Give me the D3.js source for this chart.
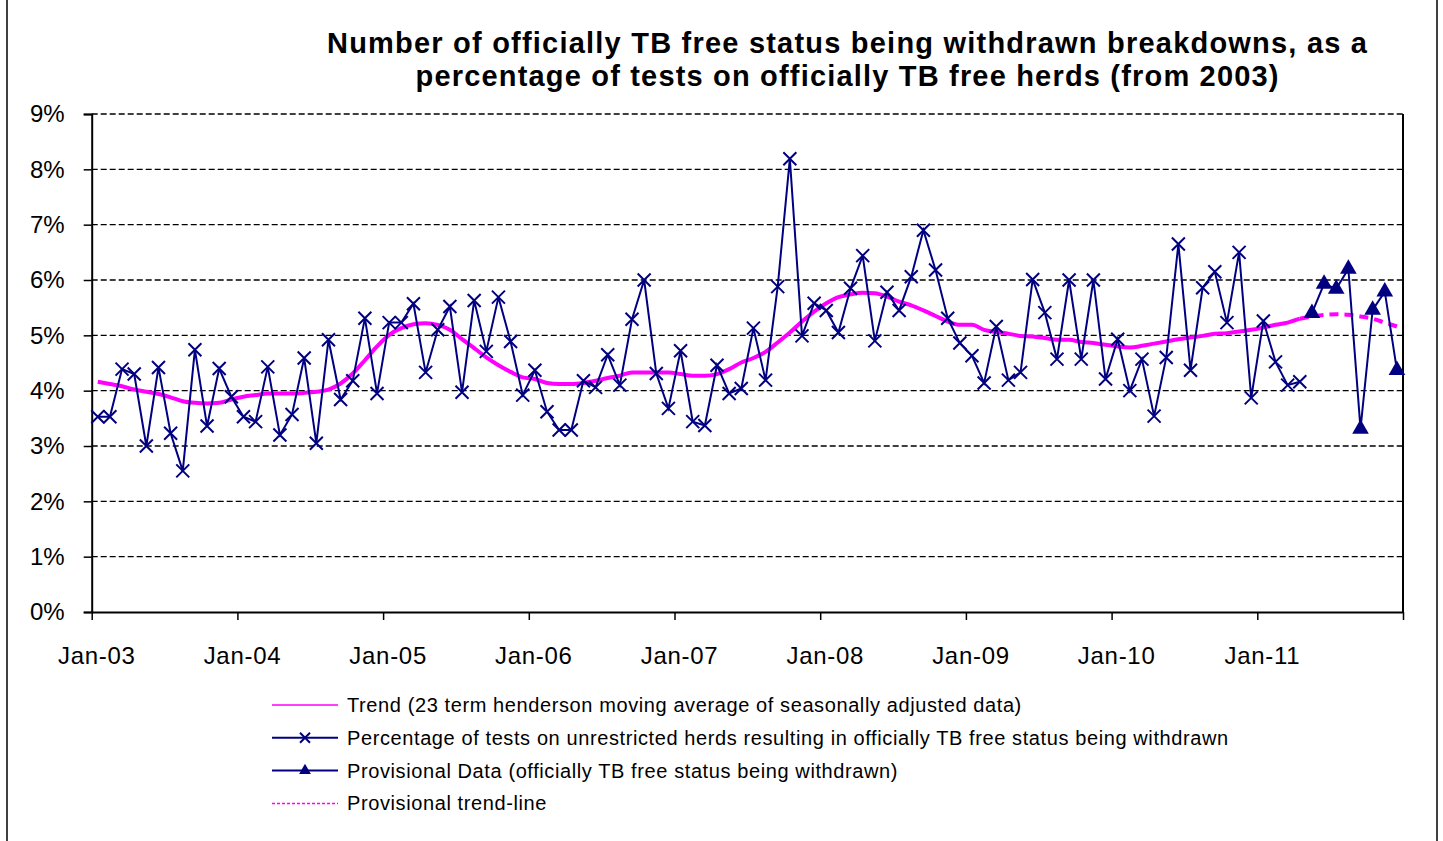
<!DOCTYPE html>
<html>
<head>
<meta charset="utf-8">
<script src="https://cdn.jsdelivr.net/npm/d3@7"></script>
<style>
  html, body { margin: 0; padding: 0; background: #fff; }
  svg { display: block; }
  text { font-family: "Liberation Sans", Arial, sans-serif; }
</style>
</head>
<body>
<svg id="chart" width="1443" height="841"></svg>
<script>
// ---------- DATA ----------
const years = ["03","04","05","06","07","08","09","10","11"];
const monthNames = ["Jan","Feb","Mar","Apr","May","Jun","Jul","Aug","Sep","Oct","Nov","Dec"];
const months = [];
years.forEach(yr => monthNames.forEach(m => months.push(m + "-" + yr)));   // 108 categories, Jan-03 .. Dec-11

const yearTickLabels = ["Jan-03","Jan-04","Jan-05","Jan-06","Jan-07","Jan-08","Jan-09","Jan-10","Jan-11"];
const yTickValues = [0,0.01,0.02,0.03,0.04,0.05,0.06,0.07,0.08,0.09];

// Percentage of tests on unrestricted herds resulting in OTF status withdrawn (Jan-03 .. Apr-11), in %
const percentValues = [
  3.53,3.53,4.39,4.30,3.00,4.42,3.23,2.55,4.74,3.36,4.40,3.89,
  3.53,3.44,4.43,3.20,3.57,4.59,3.05,4.92,3.84,4.18,5.31,3.95,
  5.23,5.23,5.57,4.33,5.10,5.52,3.97,5.63,4.71,5.69,4.89,3.92,
  4.37,3.62,3.29,3.29,4.18,4.06,4.65,4.10,5.29,6.00,4.31,3.68,
  4.72,3.44,3.37,4.46,3.95,4.04,5.13,4.19,5.88,8.19,4.99,5.58,
  5.45,5.05,5.85,6.44,4.90,5.78,5.45,6.06,6.90,6.18,5.31,4.86,
  4.63,4.14,5.16,4.19,4.33,6.01,5.41,4.57,6.00,4.57,6.00,4.21,
  4.93,4.00,4.57,3.54,4.60,6.65,4.37,5.86,6.15,5.23,6.50,3.87,
  5.26,4.52,4.10,4.16
];
// Provisional data (May-11 .. Dec-11), in %
const provisionalValues = [5.40,5.93,5.84,6.20,3.31,5.46,5.79,4.37];
const provisionalStart = 100;

// Trend: 23 term Henderson moving average (Jan-03 .. Apr-11), in %
const trendValues = [
  4.16,4.12,4.08,4.02,3.98,3.94,3.88,3.81,3.78,3.77,3.78,3.84,
  3.89,3.92,3.95,3.95,3.95,3.96,3.98,4.02,4.13,4.31,4.55,4.80,
  5.01,5.13,5.20,5.22,5.19,5.10,4.93,4.77,4.60,4.46,4.34,4.24,
  4.21,4.14,4.12,4.12,4.14,4.18,4.23,4.27,4.33,4.33,4.33,4.33,
  4.30,4.27,4.27,4.30,4.39,4.51,4.59,4.70,4.87,5.05,5.25,5.43,
  5.58,5.69,5.74,5.77,5.76,5.70,5.61,5.54,5.45,5.35,5.25,5.19,
  5.19,5.10,5.06,5.03,4.99,4.98,4.95,4.92,4.92,4.88,4.86,4.83,
  4.80,4.78,4.81,4.85,4.89,4.93,4.96,4.99,5.03,5.04,5.07,5.10,
  5.14,5.19,5.23,5.30
];
// Provisional trend-line (Apr-11 .. Dec-11), in %
const provTrendValues = [5.30,5.34,5.37,5.38,5.37,5.34,5.30,5.23,5.16];
const provTrendStart = 99;

const titleLines = [
  "Number of officially  TB free status being withdrawn breakdowns, as a",
  "percentage of tests on officially  TB free herds (from 2003)"
];
const legendLabels = [
  "Trend (23 term henderson moving average of seasonally adjusted data)",
  "Percentage of tests on unrestricted herds resulting in officially TB free status being withdrawn",
  "Provisional Data (officially TB free status being withdrawn)",
  "Provisional trend-line"
];

// ---------- LAYOUT ----------
const NAVY = "#000080", MAGENTA = "#FF00FF";
const svg = d3.select("#chart");
const plotLeft = 91.7, plotRight = 1403, plotTop = 114, plotBottom = 612;

const x = d3.scaleLinear().domain([0, months.length]).range([plotLeft, plotRight]);
const y = d3.scaleLinear().domain([0, 0.09]).range([plotBottom, plotTop]);
const px = i => x(i + 0.5);

// outer frame
svg.append("line").attr("x1",7).attr("x2",7).attr("y1",0).attr("y2",841).attr("stroke","#000").attr("stroke-width",1.5);
svg.append("line").attr("x1",1437).attr("x2",1437).attr("y1",0).attr("y2",841).attr("stroke","#000").attr("stroke-width",1.5);

// title
const titleWidths = [1040, 863];
svg.append("g").selectAll("text").data(titleLines).join("text")
  .attr("x", 847).attr("y", (d,i) => 53 + i*33)
  .attr("text-anchor","middle").attr("font-size", 29).attr("font-weight","bold")
  .attr("textLength", (d,i) => titleWidths[i]).attr("lengthAdjust","spacing")
  .text(d => d);

// gridlines
svg.append("g").selectAll("line").data(yTickValues.filter(v => v > 0)).join("line")
  .attr("x1", plotLeft).attr("x2", plotRight)
  .attr("y1", d => y(d)).attr("y2", d => y(d))
  .attr("stroke","#000").attr("stroke-width",1.3).attr("stroke-dasharray","6,3");

// right border of plot
svg.append("line").attr("x1", plotRight).attr("x2", plotRight).attr("y1", plotTop).attr("y2", plotBottom)
  .attr("stroke","#000").attr("stroke-width",2);

// y axis
const yAxis = d3.axisLeft(y).tickValues(yTickValues).tickFormat(d3.format(".0%")).tickSize(8).tickPadding(19);
const gy = svg.append("g").attr("transform", `translate(${plotLeft},0)`).call(yAxis);
gy.select(".domain").attr("stroke","#000").attr("stroke-width",2);
gy.selectAll(".tick line").attr("stroke","#000").attr("stroke-width",1.5);
gy.selectAll(".tick text").attr("font-size",24).attr("fill","#000")
  .attr("font-family","Liberation Sans, Arial, sans-serif");

// x axis
const xTicks = d3.range(0, months.length + 1, 12);
const xAxis = d3.axisBottom(x).tickValues(xTicks).tickFormat("").tickSize(8).tickSizeOuter(0);
const gx = svg.append("g").attr("transform", `translate(0,${plotBottom})`).call(xAxis);
gx.select(".domain").attr("stroke","#000").attr("stroke-width",2);
gx.selectAll(".tick line").attr("stroke","#000").attr("stroke-width",1.5);
svg.append("g").selectAll("text").data(yearTickLabels).join("text")
  .attr("x", (d,i) => px(i*12) - 1).attr("y", 664)
  .attr("text-anchor","middle").attr("font-size",24).attr("letter-spacing",0.7).text(d => d);

// trend (solid)
const line = d3.line().x(d => px(d.i)).y(d => y(d.v/100)).curve(d3.curveMonotoneX);
const trendData = trendValues.map((v,i) => ({i, v}));
svg.append("path").attr("d", line(trendData)).attr("fill","none")
  .attr("stroke", MAGENTA).attr("stroke-width",4).attr("stroke-linejoin","round");
// provisional trend (dashed)
const provTrendData = provTrendValues.map((v,k) => ({i: provTrendStart + k, v}));
svg.append("path").attr("d", line(provTrendData)).attr("fill","none")
  .attr("stroke", MAGENTA).attr("stroke-width",4).attr("stroke-dasharray","9,6");

// main series
const straight = d3.line().x(d => px(d.i)).y(d => y(d.v/100));
const pctData = percentValues.map((v,i) => ({i, v}));
svg.append("path").attr("d", straight(pctData)).attr("fill","none")
  .attr("stroke", NAVY).attr("stroke-width",2);
const crossPath = (cx, cy, s) => `M${cx-s},${cy-s}L${cx+s},${cy+s}M${cx-s},${cy+s}L${cx+s},${cy-s}`;
svg.append("g").selectAll("path").data(pctData).join("path")
  .attr("d", d => crossPath(px(d.i), y(d.v/100), 6.5))
  .attr("stroke", NAVY).attr("stroke-width",2).attr("fill","none");

// provisional series
const provData = provisionalValues.map((v,k) => ({i: provisionalStart + k, v}));
svg.append("path").attr("d", straight(provData)).attr("fill","none")
  .attr("stroke", NAVY).attr("stroke-width",2);
const tri = d3.symbol().type(d3.symbolTriangle).size(120);
svg.append("g").selectAll("path").data(provData).join("path")
  .attr("transform", d => `translate(${px(d.i)},${y(d.v/100)})`)
  .attr("d", tri).attr("fill", NAVY);

// legend
const lx1 = 272, lx2 = 338, ltx = 347, ly0 = 705, ldy = 32.8;
const lmid = (lx1 + lx2) / 2;
const lg = svg.append("g");
legendLabels.forEach((lab, k) => {
  const yy = ly0 + k*ldy;
  const ln = lg.append("line").attr("x1", lx1).attr("x2", lx2).attr("y1", yy).attr("y2", yy);
  if (k === 0) ln.attr("stroke", MAGENTA).attr("stroke-width", 1.5);
  if (k === 1 || k === 2) ln.attr("stroke", NAVY).attr("stroke-width", 2);
  if (k === 3) ln.attr("stroke", MAGENTA).attr("stroke-width", 1.5).attr("stroke-dasharray","3,2");
  if (k === 1) lg.append("path").attr("d", crossPath(lmid, yy, 5))
      .attr("stroke", NAVY).attr("stroke-width", 2).attr("fill","none");
  if (k === 2) lg.append("path").attr("transform", `translate(${lmid},${yy})`)
      .attr("d", d3.symbol().type(d3.symbolTriangle).size(60)).attr("fill", NAVY);
  lg.append("text").attr("x", ltx).attr("y", yy + 7).attr("font-size", 20)
    .attr("letter-spacing", 0.6).text(lab);
});
</script>
</body>
</html>
